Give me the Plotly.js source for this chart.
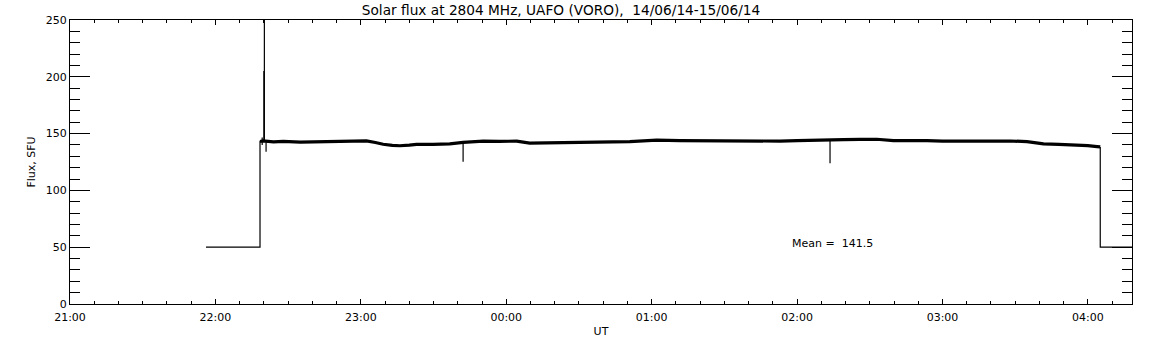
<!DOCTYPE html>
<html>
<head>
<meta charset="utf-8">
<script src="https://cdn.plot.ly/plotly-3.0.1.min.js"></script>
<style>html,body{margin:0;padding:0;background:#fff;}#chart{width:1152px;height:345px;}</style>
</head>
<body>
<div id="chart"></div>
<script>
// Time in minutes after 21:00 UT (14/06/14)
const bandMinutes = [78.4, 79.6, 84, 88, 95, 101.7, 108, 115.4, 122.3, 126, 129.2, 133, 136.1, 140, 143, 149.8, 156.7, 162.2, 170.5, 177, 184.3, 189.7, 196, 203.5, 210, 217.3, 224, 231, 236, 242.1, 251.7, 258, 265.4, 272, 279.2, 286.1, 293, 300, 306.7, 313.6, 319.1, 326, 332.9, 339.8, 346, 353.6, 360, 367.3, 374, 381.1, 388, 394.9, 401.7, 408, 415.5, 420, 423.8, 425.1];
const bandFlux = [143, 143.5, 142.8, 143.2, 142.5, 142.7, 142.9, 143.0, 143.6, 142.2, 140.6, 139.6, 139.3, 139.8, 140.5, 140.6, 140.9, 142.2, 143.3, 143.1, 143.4, 141.6, 141.9, 142.3, 142.6, 142.6, 142.8, 142.9, 143.6, 144.3, 143.8, 143.7, 143.8, 143.4, 143.1, 142.9, 143.4, 143.8, 144.3, 144.4, 144.7, 144.9, 145.0, 143.8, 143.9, 143.8, 143.4, 143.5, 143.8, 144.0, 143.5, 142.9, 141.0, 140.6, 140.0, 139.4, 138.6, 138.3];

// Off-source level, jumps and short spikes (null separates segments)
const edgeMinutes = [56.1, 78.4, 78.4, null, 79.3, 79.3, null, 80.0, 80.0, null, 80.2, 80.2, null, 80.9, 80.9, null, 162.2, 162.2, null, 313.6, 313.6, null, 425.1, 425.1, 440];
const edgeFlux    = [50, 50, 143.5, null, 140, 146.5, null, 143, 205, null, 143, 255, null, 143, 134, null, 142, 125.3, null, 144.4, 123.8, null, 138.3, 50, 50];

const tickMinutes = [0, 60, 120, 180, 240, 300, 360, 420];
const tickLabels = ['21:00', '22:00', '23:00', '00:00', '01:00', '02:00', '03:00', '04:00'];
const xRange = [0, 438.2];
const yRange = [0, 250];
const meanValue = 141.5;
const meanLabelMinute = 297;
const titleText = 'Solar flux at 2804 MHz, UAFO (VORO),  14/06/14-15/06/14';

const font = {family: 'DejaVu Sans', size: 11, color: '#000'};

const traces = [
  {x: edgeMinutes, y: edgeFlux, type: 'scatter', mode: 'lines', line: {color: '#000', width: 1.2}, connectgaps: false, hoverinfo: 'skip'},
  {x: bandMinutes, y: bandFlux, type: 'scatter', mode: 'lines', line: {color: '#000', width: 3.2}, hoverinfo: 'skip'}
];

const layout = {
  width: 1152, height: 345,
  margin: {l: 70, r: 20, t: 20, b: 41, pad: 0},
  paper_bgcolor: '#fff', plot_bgcolor: '#fff',
  showlegend: false,
  font: font,
  title: {text: titleText.replace(/  /g, ' \u00a0'), font: {family: 'DejaVu Sans', size: 13.7, color: '#000'}, x: 0.487, xanchor: 'center', y: 1 - 10/345, yanchor: 'middle'},
  xaxis: {
    range: xRange, showgrid: false, zeroline: false,
    showline: true, linecolor: '#000', linewidth: 1, mirror: 'ticks',
    tickmode: 'array', tickvals: tickMinutes, ticktext: tickLabels,
    ticks: 'inside', ticklen: 5, tickwidth: 1, tickcolor: '#000',
    ticklabelstandoff: 3,
    minor: {tickmode: 'linear', tick0: 0, dtick: 10, ticks: 'inside', ticklen: 3, tickwidth: 1, tickcolor: '#000', showgrid: false},
    tickfont: font,
    title: {text: 'UT', font: font, standoff: 4}
  },
  yaxis: {
    range: yRange, showgrid: false, zeroline: false,
    showline: true, linecolor: '#000', linewidth: 1, mirror: 'ticks',
    tickmode: 'linear', tick0: 0, dtick: 50,
    ticks: 'inside', ticklen: 20, tickwidth: 1, tickcolor: '#000',
    minor: {tickmode: 'linear', tick0: 0, dtick: 10, ticks: 'inside', ticklen: 10, tickwidth: 1, tickcolor: '#000', showgrid: false},
    tickfont: font,
    title: {text: 'Flux, SFU', font: font, standoff: 7}
  },
  annotations: [{
    x: meanLabelMinute, y: 53.7, xref: 'x', yref: 'y', xanchor: 'left', yanchor: 'middle',
    text: 'Mean =\u00a0 ' + meanValue.toFixed(1), showarrow: false, font: font
  }]
};

Plotly.newPlot('chart', traces, layout, {staticPlot: true, displayModeBar: false});
</script>
</body>
</html>
